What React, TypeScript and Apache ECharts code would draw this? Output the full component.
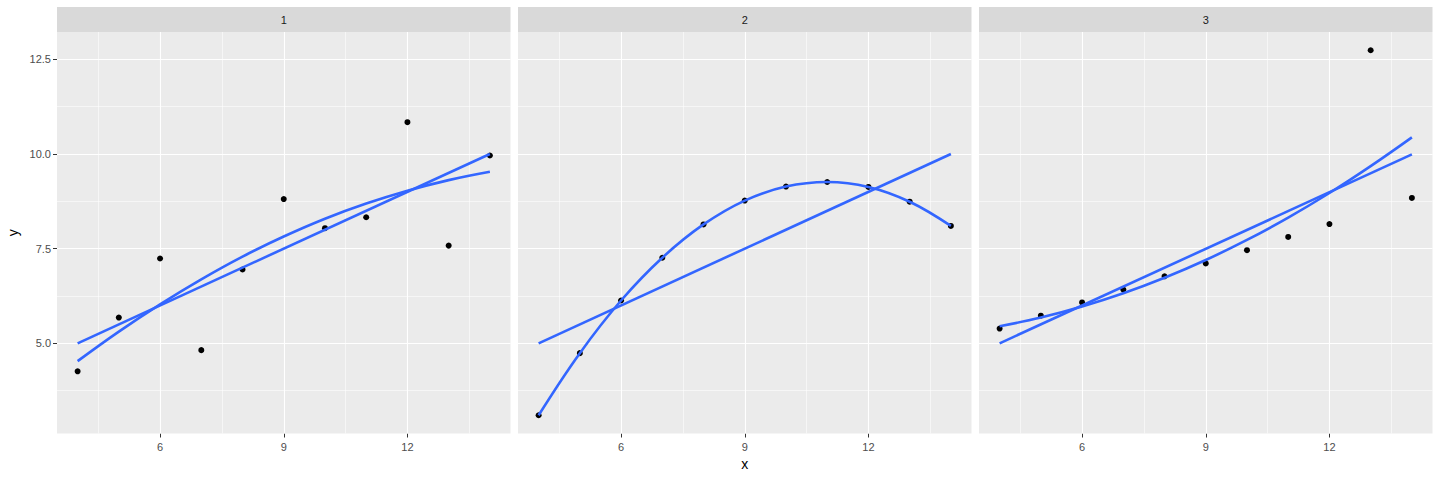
import React, { useEffect, useRef } from "react";
import * as echarts from "echarts";

// Anscombe data, panels 1..3
const panels = ["1", "2", "3"];
const xs = [10, 8, 13, 9, 11, 14, 6, 4, 12, 7, 5];
const y1 = [8.04, 6.95, 7.58, 8.81, 8.33, 9.96, 7.24, 4.26, 10.84, 4.82, 5.68];
const y2 = [9.14, 8.14, 8.74, 8.77, 9.26, 8.1, 6.13, 3.1, 9.13, 7.26, 4.74];
const y3 = [7.46, 6.77, 12.74, 7.11, 7.81, 8.84, 6.08, 5.39, 8.15, 6.42, 5.73];

// fitted curves (quadratic) read at x = 4..14
const fitX = [4, 5, 6, 7, 8, 9, 10, 11, 12, 13, 14];
const quad1 = [4.53, 5.31, 6.03, 6.69, 7.29, 7.82, 8.29, 8.69, 9.03, 9.31, 9.53];
const quad2 = [3.1, 4.74, 6.13, 7.26, 8.14, 8.77, 9.14, 9.26, 9.13, 8.74, 8.1];
const quad3 = [5.45, 5.68, 5.97, 6.32, 6.73, 7.2, 7.73, 8.32, 8.97, 9.68, 10.44];

// linear fits: endpoints
const linX = [4, 14];
const lin1 = [5.0, 10.0];
const lin2 = [5.0, 10.0];
const lin3 = [5.0, 9.99];

// axis breaks
const xMajor = [6, 9, 12];
const xMinor = [4.5, 7.5, 10.5, 13.5];
const yMajor = [5, 7.5, 10, 12.5];
const yMinor = [3.75, 6.25, 8.75, 11.25];
const yLabels = ["5.0", "7.5", "10.0", "12.5"];

const X_MIN = 3.5;
const X_MAX = 14.5;
const Y_MIN = 2.618;
const Y_MAX = 13.222;

const FONT = "'Liberation Sans', Arial, sans-serif";

const panelLeft = [57, 518, 979];
const panelWidth = 453.5;
const PANEL_TOP = 32;
const PANEL_H = 401.5;

export default function App() {
  const ref = useRef<HTMLDivElement>(null);
  useEffect(() => {
    if (!ref.current) return;
    const chart = echarts.init(ref.current, undefined, { renderer: "svg" });
    const ys = [y1, y2, y3];
    const quads = [quad1, quad2, quad3];
    const lins = [lin1, lin2, lin3];

    const grids = panels.map((_, i) => ({
      left: panelLeft[i],
      top: PANEL_TOP,
      width: panelWidth,
      height: PANEL_H,
      show: true,
      backgroundColor: "#EBEBEB",
      borderWidth: 0,
    }));

    const xAxes = panels.map((_, i) => ({
      type: "value",
      gridIndex: i,
      min: X_MIN,
      max: X_MAX,
      axisLine: { show: false },
      splitLine: { show: false },
      axisTick: {
        show: true,
        length: 4,
        customValues: xMajor,
        lineStyle: { color: "#333333", width: 1 },
      },
      axisLabel: {
        show: true,
        customValues: xMajor,
        color: "#4D4D4D",
        fontSize: 11,
        fontFamily: FONT,
        margin: 8,
      },
      name: i === 1 ? "x" : "",
      nameLocation: "middle",
      nameGap: 23,
      nameTextStyle: { color: "#000000", fontSize: 14, fontFamily: FONT },
    }));

    const yAxes = panels.map((_, i) => ({
      type: "value",
      gridIndex: i,
      min: Y_MIN,
      max: Y_MAX,
      axisLine: { show: false },
      splitLine: { show: false },
      axisTick: {
        show: i === 0,
        length: 4,
        customValues: yMajor,
        lineStyle: { color: "#333333", width: 1 },
      },
      axisLabel: {
        show: i === 0,
        customValues: yMajor,
        color: "#4D4D4D",
        fontSize: 11,
        fontFamily: FONT,
        margin: 6,
        formatter: (v: number) => {
          const k = yMajor.indexOf(v);
          return k >= 0 ? yLabels[k] : "";
        },
      },
      name: i === 0 ? "y" : "",
      nameLocation: "middle",
      nameGap: 37,
      nameRotate: 90,
      nameTextStyle: { color: "#000000", fontSize: 14, fontFamily: FONT },
    }));

    const series: any[] = [];
    panels.forEach((_, i) => {
      const mk = (vals: number[], axis: "xAxis" | "yAxis", width: number) =>
        vals.map((v) => ({ [axis]: v, lineStyle: { color: "#FFFFFF", width, type: "solid" } }));
      series.push({
        type: "line",
        xAxisIndex: i,
        yAxisIndex: i,
        data: [],
        silent: true,
        z: 1,
        markLine: {
          silent: true,
          z: 1,
          symbol: "none",
          label: { show: false },
          emphasis: { disabled: true },
          animation: false,
          data: [
            ...mk(xMinor, "xAxis", 0.55),
            ...mk(yMinor, "yAxis", 0.55),
            ...mk(xMajor, "xAxis", 1.1),
            ...mk(yMajor, "yAxis", 1.1),
          ],
        },
      });
      series.push({
        type: "scatter",
        xAxisIndex: i,
        yAxisIndex: i,
        data: xs.map((x, k) => [x, ys[i][k]]),
        symbolSize: 6,
        itemStyle: { color: "#000000", opacity: 1 },
        z: 3,
      });
      series.push({
        type: "line",
        xAxisIndex: i,
        yAxisIndex: i,
        data: linX.map((x, k) => [x, lins[i][k]]),
        showSymbol: false,
        symbol: "none",
        lineStyle: { color: "#3366FF", width: 2.6 },
        z: 4,
      });
      series.push({
        type: "line",
        xAxisIndex: i,
        yAxisIndex: i,
        data: fitX.map((x, k) => [x, quads[i][k]]),
        showSymbol: false,
        symbol: "none",
        smooth: 0.4,
        lineStyle: { color: "#3366FF", width: 2.6 },
        z: 4,
      });
    });

    const graphic: any[] = [];
    panels.forEach((p, i) => {
      graphic.push({
        type: "rect",
        shape: { x: panelLeft[i], y: 7, width: panelWidth, height: 25 },
        style: { fill: "#D9D9D9" },
        silent: true,
      });
      graphic.push({
        type: "text",
        x: panelLeft[i] + panelWidth / 2,
        y: 20,
        style: {
          text: p,
          fill: "#1A1A1A",
          fontSize: 11,
          fontFamily: FONT,
          align: "center",
          verticalAlign: "middle",
        },
        silent: true,
      });
    });

    chart.setOption({
      animation: false,
      backgroundColor: "#FFFFFF",
      grid: grids,
      xAxis: xAxes,
      yAxis: yAxes,
      series,
      graphic,
    });
    return () => chart.dispose();
  }, []);
  return (
    <div
      ref={ref}
      style={{ position: "fixed", left: 0, top: 0, width: 1440, height: 480 }}
    />
  );
}
